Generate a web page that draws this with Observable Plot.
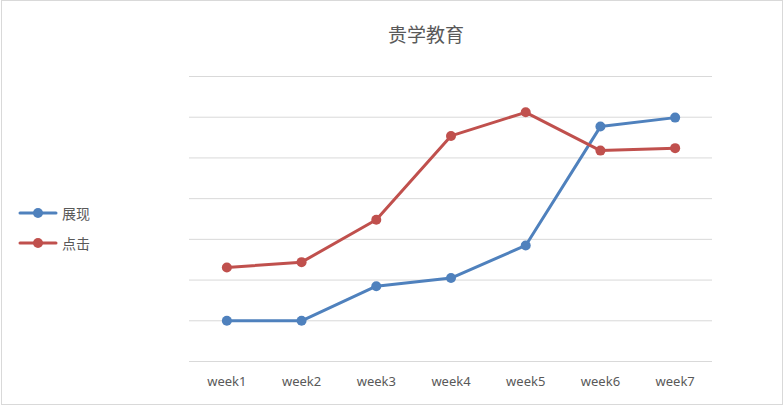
<!DOCTYPE html>
<html>
<head>
<meta charset="utf-8">
<script src="https://cdn.jsdelivr.net/npm/d3@7"></script>
<script src="https://cdn.jsdelivr.net/npm/@observablehq/plot@0.6"></script>
<style>
  html, body { margin: 0; padding: 0; background: #fff; }
  #wrap { position: relative; width: 784px; height: 407px; overflow: hidden; }
  #frame { position: absolute; left: 1px; top: 0; width: 780px; height: 403px; border: 1px solid #d9d9d9; box-sizing: content-box; pointer-events: none; }
  #title { position: absolute; left: 0; width: 852px; top: 22px; text-align: center; font-family: "Noto Sans CJK SC", sans-serif; font-size: 19px; color: #595959; line-height: 24px; }
  .leg { position: absolute; left: 18px; height: 20px; font-family: "Noto Sans CJK SC", sans-serif; font-size: 14px; color: #595959; display: flex; align-items: center; }
  .leg svg { margin-right: 4px; }
  #chart { position: absolute; left: 0; top: 0; }
</style>
</head>
<body>
<div id="wrap">
  <div id="chart"></div>
  <div id="title">贵学教育</div>
  <div id="legend"></div>
  <div id="frame"></div>
</div>
<script>
const weeks = ["week1", "week2", "week3", "week4", "week5", "week6", "week7"];
const seriesNames = ["展现", "点击"];
const showValues = [1.0, 1.0, 1.85, 2.05, 2.85, 5.77, 5.99];
const clickValues = [2.31, 2.44, 3.48, 5.54, 6.12, 5.18, 5.24];
const gridTicks = [0, 1, 2, 3, 4, 5, 6, 7];
const colors = ["#4F81BD", "#C0504D"];

const data = [];
weeks.forEach((w, i) => {
  data.push({week: w, value: showValues[i], series: seriesNames[0]});
  data.push({week: w, value: clickValues[i], series: seriesNames[1]});
});

const chart = Plot.plot({
  width: 784,
  height: 407,
  marginLeft: 189,
  marginRight: 72,
  marginTop: 76,
  marginBottom: 46,
  style: {background: "transparent", fontFamily: "'Noto Sans', sans-serif"},
  x: {type: "point", domain: weeks, padding: 0.5, round: false, label: null},
  y: {domain: [0, 7], label: null, axis: null},
  color: {domain: seriesNames, range: colors},
  marks: [
    Plot.ruleY(gridTicks, {stroke: "#d9d9d9", strokeWidth: 1}),
    Plot.axisX({tickSize: 0, tickPadding: 15, fontSize: 13, fill: "#595959", label: null}),
    Plot.line(data, {x: "week", y: "value", z: "series", stroke: "series", strokeWidth: 3, strokeLinejoin: "round", strokeLinecap: "round"}),
    Plot.dot(data, {x: "week", y: "value", fill: "series", r: 5, stroke: null})
  ]
});
document.getElementById("chart").appendChild(chart);

const legend = document.getElementById("legend");
seriesNames.forEach((name, i) => {
  const d = document.createElement("div");
  d.className = "leg";
  d.style.top = (203 + i * 30) + "px";
  d.innerHTML = `<svg width="40" height="12"><line x1="2" y1="6" x2="38" y2="6" stroke="${colors[i]}" stroke-width="3" stroke-linecap="round"/><circle cx="20" cy="6" r="5" fill="${colors[i]}"/></svg><span>${name}</span>`;
  legend.appendChild(d);
});
</script>
</body>
</html>
